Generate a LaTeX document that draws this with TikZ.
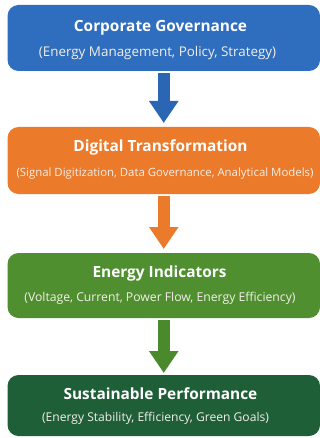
\documentclass[tikz,border=0pt]{standalone}
\usepackage{fontspec}
\setmainfont{Open Sans}
\usetikzlibrary{arrows.meta}
\definecolor{cblue}{HTML}{2F6DBE}
\definecolor{cblueb}{HTML}{2B66B5}
\definecolor{corange}{HTML}{EC7A2B}
\definecolor{cgreen}{HTML}{4F8F30}
\definecolor{cgreenb}{HTML}{4A8A2C}
\definecolor{cdark}{HTML}{1F5F38}
\definecolor{csub}{HTML}{F2EFE8}
\tikzset{
  x=1pt,y=-1pt,
  panel/.style={rounded corners=11pt,minimum width=312.5pt,inner sep=0pt,outer sep=0pt},
  titletext/.style={anchor=base,text=white,inner sep=0pt,font=\bfseries\fontsize{15.4}{18}\selectfont},
  subtext/.style={anchor=base,text=csub,inner sep=0pt},
  flow/.style={line width=11.5pt,-{Triangle[length=22pt,width=28pt]}}
}
\begin{document}
\begin{tikzpicture}
\useasboundingbox (0,0) rectangle (320,438);
\fill[white] (0,0) rectangle (320,438);
\node[panel,minimum height=66pt,fill=cblue] (gov) at (163.75,38) {};
\node[panel,minimum height=67pt,fill=corange] (dig) at (163.75,160.5) {};
\node[panel,minimum height=65pt,fill=cgreen] (ind) at (163.75,285.5) {};
\node[panel,minimum height=61pt,fill=cdark] (sus) at (163.75,405.5) {};
\node[titletext] (govt) at (160.5,32) {Corporate Governance};
\node[subtext,font=\fontsize{13.4}{16}\selectfont] (govs) at (157.5,57) {(Energy Management, Policy, Strategy)};
\node[titletext] (digt) at (160.5,152) {Digital Transformation};
\node[subtext,font=\fontsize{11.4}{14}\selectfont] (digs) at (165,177) {(Signal Digitization, Data Governance, Analytical Models)};
\node[titletext] (indt) at (159.5,277) {Energy Indicators};
\node[subtext,font=\fontsize{12.2}{15}\selectfont] (inds) at (160,301) {(Voltage, Current, Power Flow, Energy Efficiency)};
\node[titletext] (sust) at (160.5,399) {Sustainable Performance};
\node[subtext,font=\fontsize{12.1}{15}\selectfont] (suss) at (155.5,421) {(Energy Stability, Efficiency, Green Goals)};
\draw[flow,cblueb,shorten <=2pt,shorten >=4pt] (gov.south) -- (dig.north);
\draw[flow,corange,shorten <=2pt,shorten >=4pt] (dig.south) -- (ind.north);
\draw[flow,cgreenb,shorten <=2pt,shorten >=2pt] (ind.south) -- (sus.north);
\end{tikzpicture}
\end{document}
